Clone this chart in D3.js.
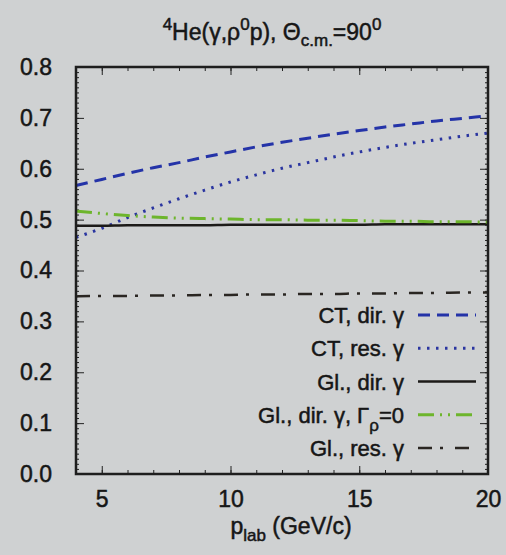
<!DOCTYPE html>
<html>
<head>
<meta charset="utf-8">
<script src="https://cdn.jsdelivr.net/npm/d3@7"></script>
<style>
  body { margin: 0; background: #cfd1d2; }
  text { font-family: "Liberation Sans", Arial, sans-serif; fill: #161616; stroke: #161616; stroke-width: 0.5px; }
  .axis path { display: none; }
  .axis line { stroke: #222; }
</style>
</head>
<body>
<script>
//Global variables
const width = 506;
const height = 555;
const plotLeft = 76, plotRight = 488, plotTop = 67, plotBottom = 474;

//Data (p_lab in GeV/c)
const pLab = [4, 5, 6, 7, 8, 9, 10, 11, 12, 13, 14, 15, 16, 17, 18, 19, 20];
const ctDir = [0.567, 0.579, 0.591, 0.602, 0.612, 0.623, 0.633, 0.643, 0.652, 0.660, 0.668, 0.675, 0.682, 0.688, 0.694, 0.699, 0.704];
const ctRes = [0.465, 0.483, 0.504, 0.523, 0.541, 0.558, 0.574, 0.588, 0.601, 0.612, 0.623, 0.633, 0.642, 0.650, 0.657, 0.664, 0.670];
const glDir = [0.488, 0.488, 0.489, 0.489, 0.489, 0.489, 0.490, 0.490, 0.490, 0.490, 0.490, 0.490, 0.491, 0.491, 0.491, 0.491, 0.491];
const glDirG0 = [0.517, 0.512, 0.508, 0.505, 0.503, 0.502, 0.501, 0.500, 0.500, 0.499, 0.499, 0.498, 0.497, 0.497, 0.496, 0.496, 0.495];
const glRes = [0.349, 0.350, 0.350, 0.351, 0.351, 0.352, 0.352, 0.353, 0.353, 0.354, 0.354, 0.355, 0.355, 0.356, 0.356, 0.357, 0.357];

const xTicks = [5, 10, 15, 20];
const yTicks = [0, 0.1, 0.2, 0.3, 0.4, 0.5, 0.6, 0.7, 0.8];

//Series styles
const series = [
  {name: "CT, dir. γ", values: ctDir, color: "#2433a8", width: 3, dash: "12,7"},
  {name: "CT, res. γ", values: ctRes, color: "#2a35a0", width: 3, dash: "2.5,6.5"},
  {name: "Gl., dir. γ", values: glDir, color: "#1c1a18", width: 2.5, dash: null},
  {name: "Gl., dir. γ, Γρ=0", values: glDirG0, color: "#6db52c", width: 3, dash: "16,6,2,6,2,6"},
  {name: "Gl., res. γ", values: glRes, color: "#2a2622", width: 2.5, dash: "14,8,3,12"}
];

//Scales
const xScale = d3.scaleLinear().domain([4, 20]).range([plotLeft, plotRight]);
const yScale = d3.scaleLinear().domain([0, 0.8]).range([plotBottom, plotTop]);

const svg = d3.select("body").append("svg")
  .attr("width", width)
  .attr("height", height);

//Minor ticks (all four sides, pointing inward)
const xMinor = d3.range(4, 20.01, 1);
const yMinor = d3.range(0, 0.8001, 0.01);

svg.append("g").attr("class", "axis")
  .attr("transform", `translate(0,${plotBottom})`)
  .call(d3.axisBottom(xScale).tickValues(xMinor).tickSize(-4).tickFormat(""));
svg.append("g").attr("class", "axis")
  .attr("transform", `translate(0,${plotTop})`)
  .call(d3.axisTop(xScale).tickValues(xMinor).tickSize(-4).tickFormat(""));
svg.append("g").attr("class", "axis")
  .attr("transform", `translate(${plotLeft},0)`)
  .call(d3.axisLeft(yScale).tickValues(yMinor).tickSize(-3).tickFormat(""));
svg.append("g").attr("class", "axis")
  .attr("transform", `translate(${plotRight},0)`)
  .call(d3.axisRight(yScale).tickValues(yMinor).tickSize(-3).tickFormat(""));

//Major ticks with labels
svg.append("g").attr("class", "axis")
  .attr("transform", `translate(0,${plotBottom})`)
  .call(d3.axisBottom(xScale).tickValues(xTicks).tickSize(-8).tickPadding(17).tickFormat(d3.format("d")));
svg.append("g").attr("class", "axis")
  .attr("transform", `translate(0,${plotTop})`)
  .call(d3.axisTop(xScale).tickValues(xTicks).tickSize(-8).tickFormat(""));
svg.append("g").attr("class", "axis")
  .attr("transform", `translate(${plotLeft},0)`)
  .call(d3.axisLeft(yScale).tickValues(yTicks).tickSize(-8).tickPadding(24).tickFormat(d3.format(".1f")));
svg.append("g").attr("class", "axis")
  .attr("transform", `translate(${plotRight},0)`)
  .call(d3.axisRight(yScale).tickValues(yTicks).tickSize(-8).tickFormat(""));

svg.selectAll(".axis text").style("font-size", "23px").attr("font-family", null);

//Curves
const line = d3.line()
  .x((d, i) => xScale(pLab[i]))
  .y(d => yScale(d))
  .curve(d3.curveMonotoneX);

svg.append("g").selectAll("path")
  .data(series)
  .join("path")
  .attr("d", d => line(d.values))
  .attr("fill", "none")
  .attr("stroke", d => d.color)
  .attr("stroke-width", d => d.width)
  .attr("stroke-dasharray", d => d.dash);

//Frame
svg.append("rect")
  .attr("x", plotLeft)
  .attr("y", plotTop)
  .attr("width", plotRight - plotLeft)
  .attr("height", plotBottom - plotTop)
  .attr("fill", "none")
  .attr("stroke", "#1e1e1e")
  .attr("stroke-width", 2.5);

//Legend
const legend = svg.append("g").attr("class", "legend");
const rowY = d3.scalePoint().domain(series.map(d => d.name)).range([315, 448]);

series.forEach(s => {
  const y = rowY(s.name);
  legend.append("line")
    .attr("x1", 418).attr("x2", 476)
    .attr("y1", y).attr("y2", y)
    .attr("stroke", s.color)
    .attr("stroke-width", s.width)
    .attr("stroke-dasharray", s.dash);
  const t = legend.append("text")
    .attr("x", 404)
    .attr("y", y + 8)
    .attr("text-anchor", "end")
    .style("font-size", "22px");
  if (s.name.includes("Γρ")) {
    t.append("tspan").text("Gl., dir. γ, Γ");
    t.append("tspan").attr("dy", 8).style("font-size", "17px").text("ρ");
    t.append("tspan").attr("dy", -8).text("=0");
  } else {
    t.text(s.name);
  }
});

//Title
const title = svg.append("text")
  .attr("x", 272)
  .attr("y", 40)
  .attr("text-anchor", "middle")
  .style("font-size", "23px");
title.append("tspan").attr("dy", -10).style("font-size", "17px").text("4");
title.append("tspan").attr("dy", 10).text("He(γ,ρ");
title.append("tspan").attr("dy", -10).style("font-size", "17px").text("0");
title.append("tspan").attr("dy", 10).text("p), Θ");
title.append("tspan").attr("dy", 6).style("font-size", "17px").text("c.m.");
title.append("tspan").attr("dy", -6).text("=90");
title.append("tspan").attr("dy", -10).style("font-size", "17px").text("0");

//x axis label
const xLabel = svg.append("text")
  .attr("x", 291)
  .attr("y", 534)
  .attr("text-anchor", "middle")
  .style("font-size", "23px");
xLabel.append("tspan").text("p");
xLabel.append("tspan").attr("dy", 7).style("font-size", "17px").text("lab");
xLabel.append("tspan").attr("dy", -7).text(" (GeV/c)");
</script>
</body>
</html>
